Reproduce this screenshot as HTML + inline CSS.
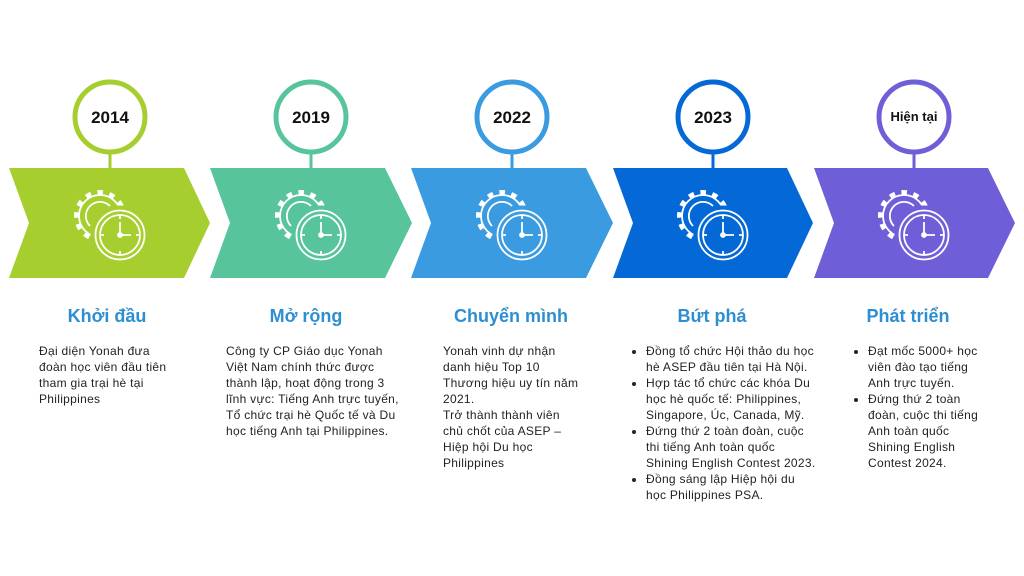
<!DOCTYPE html>
<html><head><meta charset="utf-8"><style>
body{margin:0;width:1024px;height:576px;background:#fff;position:relative;overflow:hidden;font-family:"Liberation Sans","DejaVu Sans",sans-serif}
.t{position:absolute;font-weight:bold;color:#2d8fd1;font-size:18px;text-align:center;width:200px}
.b{position:absolute;font-size:12px;line-height:16px;color:#222;white-space:nowrap;letter-spacing:0.3px}
.b ul{margin:0;padding:0 0 0 11px}
.b li{margin:0}
</style></head><body>
<svg width="1024" height="576" style="position:absolute;left:0;top:0">
<defs>
<g id="ic" fill="none" stroke="#fff" stroke-width="1.8">
<circle cx="0" cy="0" r="23.5" stroke-width="5" stroke-dasharray="5.5 6.5"/>
<circle cx="0" cy="0" r="21"/>
<path d="M-10 10 A14 14 0 0 1 10 -10"/>
<circle cx="20" cy="19" r="28" fill="currentColor" stroke="currentColor" stroke-width="3"/>
<circle cx="20" cy="19" r="24.5"/>
<circle cx="20" cy="19" r="20"/>
<path d="M20 19 V6 M20 19 H31 M20 -0.5 v3.5 M20 35 v3.5 M0.5 19 h3.5 M36 19 h3.5"/>
<circle cx="20" cy="19" r="2" fill="#fff"/>
</g>
</defs>
<polygon points="9,168 184,168 210,223 184,278 9,278 29,223" fill="#a6ce2f"/>
<line x1="110" y1="152" x2="110" y2="168" stroke="#a6ce2f" stroke-width="3"/>
<circle cx="110" cy="117" r="35" fill="#fff" stroke="#a6ce2f" stroke-width="5"/>
<use href="#ic" x="100" y="216" style="color:#a6ce2f"/>
<polygon points="210,168 385,168 412,223 385,278 210,278 230,223" fill="#57c49c"/>
<line x1="311" y1="152" x2="311" y2="168" stroke="#57c49c" stroke-width="3"/>
<circle cx="311" cy="117" r="35" fill="#fff" stroke="#57c49c" stroke-width="5"/>
<use href="#ic" x="301" y="216" style="color:#57c49c"/>
<polygon points="411,168 586,168 613,223 586,278 411,278 431,223" fill="#3a9be0"/>
<line x1="512" y1="152" x2="512" y2="168" stroke="#3a9be0" stroke-width="3"/>
<circle cx="512" cy="117" r="35" fill="#fff" stroke="#3a9be0" stroke-width="5"/>
<use href="#ic" x="502" y="216" style="color:#3a9be0"/>
<polygon points="613,168 787,168 813,223 787,278 613,278 633,223" fill="#0469d6"/>
<line x1="713" y1="152" x2="713" y2="168" stroke="#0469d6" stroke-width="3"/>
<circle cx="713" cy="117" r="35" fill="#fff" stroke="#0469d6" stroke-width="5"/>
<use href="#ic" x="703" y="216" style="color:#0469d6"/>
<polygon points="814,168 988,168 1015,223 988,278 814,278 834,223" fill="#6e5fd8"/>
<line x1="914" y1="152" x2="914" y2="168" stroke="#6e5fd8" stroke-width="3"/>
<circle cx="914" cy="117" r="35" fill="#fff" stroke="#6e5fd8" stroke-width="5"/>
<use href="#ic" x="904" y="216" style="color:#6e5fd8"/>
<g font-family="Liberation Sans, sans-serif" font-weight="bold" text-anchor="middle" fill="#111">
<text x="110" y="123" font-size="17">2014</text>
<text x="311" y="123" font-size="17">2019</text>
<text x="512" y="123" font-size="17">2022</text>
<text x="713" y="123" font-size="17">2023</text>
<text x="914" y="121" font-size="13">Hiện tại</text>
</g>
</svg>
<div class="t" style="left:7px;top:306px">Khởi đầu</div>
<div class="t" style="left:206px;top:306px">Mở rộng</div>
<div class="t" style="left:411px;top:306px">Chuyển mình</div>
<div class="t" style="left:612px;top:306px">Bứt phá</div>
<div class="t" style="left:808px;top:306px">Phát triển</div>
<div class="b" style="left:39px;top:343px">Đại diện Yonah đưa<br>đoàn học viên đầu tiên<br>tham gia trại hè tại<br>Philippines</div>
<div class="b" style="left:226px;top:343px">Công ty CP Giáo dục Yonah<br>Việt Nam chính thức được<br>thành lập, hoạt động trong 3<br>lĩnh vực: Tiếng Anh trực tuyến,<br>Tổ chức trại hè Quốc tế và Du<br>học tiếng Anh tại Philippines.</div>
<div class="b" style="left:443px;top:343px">Yonah vinh dự nhận<br>danh hiệu Top 10<br>Thương hiệu uy tín năm<br>2021.<br>Trở thành thành viên<br>chủ chốt của ASEP –<br>Hiệp hội Du học<br>Philippines</div>
<div class="b" style="left:635px;top:343px"><ul>
<li>Đồng tổ chức Hội thảo du học<br>hè ASEP đầu tiên tại Hà Nội.</li>
<li>Hợp tác tổ chức các khóa Du<br>học hè quốc tế: Philippines,<br>Singapore, Úc, Canada, Mỹ.</li>
<li>Đứng thứ 2 toàn đoàn, cuộc<br>thi tiếng Anh toàn quốc<br>Shining English Contest 2023.</li>
<li>Đồng sáng lập Hiệp hội du<br>học Philippines PSA.</li></ul></div>
<div class="b" style="left:857px;top:343px"><ul>
<li>Đạt mốc 5000+ học<br>viên đào tạo tiếng<br>Anh trực tuyến.</li>
<li>Đứng thứ 2 toàn<br>đoàn, cuộc thi tiếng<br>Anh toàn quốc<br>Shining English<br>Contest 2024.</li></ul></div>
</body></html>
